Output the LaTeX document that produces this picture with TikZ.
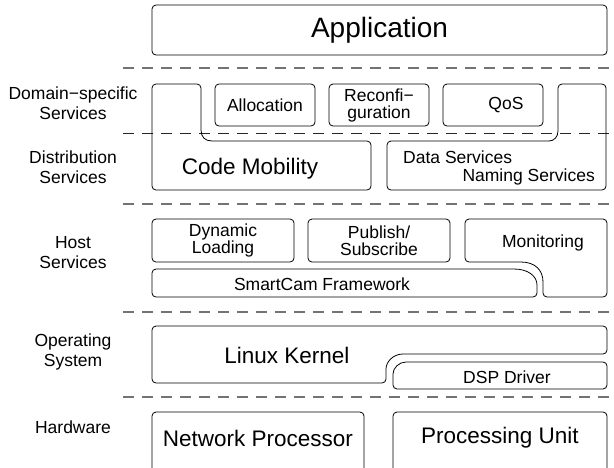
\documentclass[tikz,border=0pt]{standalone}
\usepackage{fontspec}
\setmainfont{Liberation Sans}
\usetikzlibrary{shapes}

\begin{document}
\begin{tikzpicture}[x=1pt, y=-1pt]
		\tikzstyle{block} = [rectangle, draw, text centered, rounded corners, line width=0.8pt, inner sep=0pt, align=center, font=\fontsize{17.5}{17}\selectfont]
		\tikzstyle{outline} = [draw, rounded corners, line width=0.8pt]
		\tikzstyle{boxtext} = [inner sep=0pt, align=center, font=\fontsize{17.5}{17}\selectfont]
		\tikzstyle{bigtext} = [inner sep=0pt, font=\fontsize{22.5}{24}\selectfont]
		\tikzstyle{layername} = [inner sep=0pt, align=center, font=\fontsize{17.5}{20}\selectfont]
		\tikzstyle{separator} = [draw, line width=1.6pt, black!55, dash pattern=on 11pt off 8pt]
		\tikzstyle{thinseparator} = [draw, line width=0.9pt, black!85, dash pattern=on 11pt off 8pt]
		\path [use as bounding box, clip] (0,0) rectangle (614,467);
		\path [separator] (123,68) -- (614,68);
		\path [thinseparator] (123,133) -- (614,133);
		\path [separator] (123,204) -- (614,204);
		\path [separator] (123,312) -- (614,312);
		\path [separator] (123,397) -- (614,397);
		\node [layername] at (73,103) (lnamedomain) {Domain−specific\\Services};
		\node [layername] at (73,167) (lnamedist) {Distribution\\Services};
		\node [layername] at (73,253) (lnamehost) {Host\\Services};
		\node [layername] at (73,352) (lnameos) {Operating\\System};
		\node [layername] at (73,427) (lnamehw) {Hardware};
		\node [block, minimum width=455pt, minimum height=50pt, font=\fontsize{28}{30}\selectfont] at (379.5,30) (app) {Application};
		\node [block, minimum width=100pt, minimum height=42pt] at (265,105) (alloc) {Allocation};
		\node [block, minimum width=100pt, minimum height=42pt] at (379,105) (reconf) {Reconfi−\\guration};
		\node [block, minimum width=100pt, minimum height=42pt] at (493,105) (qos) {};
		\node [boxtext] at (506,105) (qostext) {QoS};
		\path [outline] (152,84) -- (201,84) -- (201,126) .. controls (201,137) and (205,141) .. (216,141) -- (371,141) -- (371,190) -- (152,190) -- cycle;
		\node [bigtext] at (250,169) (codemob) {Code Mobility};
		\path [outline] (558,84) -- (606,84) -- (606,190) -- (387,190) -- (387,141) -- (545,141) .. controls (554,141) and (558,137) .. (558,127) -- cycle;
		\node [boxtext, anchor=west] at (403,157) (datasrv) {Data Services};
		\node [boxtext, anchor=east] at (595,177) (namesrv) {Naming Services};
		\node [block, minimum width=142pt, minimum height=43pt] at (223,240.5) (dynload) {Dynamic\\Loading};
		\node [block, minimum width=142pt, minimum height=43pt] at (379,240.5) (pubsub) {Publish/\\Subscribe};
		\path [outline] (465,219) -- (607,219) -- (607,297) -- (543,297) -- (543,286) .. controls (543,270) and (535,262) .. (517,262) -- (465,262) -- cycle;
		\node [boxtext] at (543,243) (monitor) {Monitoring};
		\path [outline] (152,269) -- (510,269) .. controls (528,269) and (537,276) .. (537,289) -- (537,297) -- (152,297) -- cycle;
		\node [boxtext] at (322,284) (smartcam) {SmartCam Framework};
		\path [outline] (152,326) -- (607,326) -- (607,354) -- (407,354) .. controls (393,354) and (386,362) .. (386,373) -- (386,383) -- (152,383) -- cycle;
		\node [bigtext] at (287,355) (kernel) {Linux Kernel};
		\path [outline] (607,362) -- (607,389) -- (393,389) -- (393,378) .. controls (393,368) and (399,362) .. (410,362) -- cycle;
		\node [boxtext] at (507,377) (dsp) {DSP Driver};
		\node [block, minimum width=212pt, minimum height=68pt] at (258,446) (netproc) {};
		\node [bigtext] at (258,438) (netproctext) {Network Processor};
		\node [block, minimum width=214pt, minimum height=68pt] at (500,446) (procunit) {};
		\node [bigtext] at (500,438) (procunittext) {Processing Unit};
	\end{tikzpicture}
\end{document}
